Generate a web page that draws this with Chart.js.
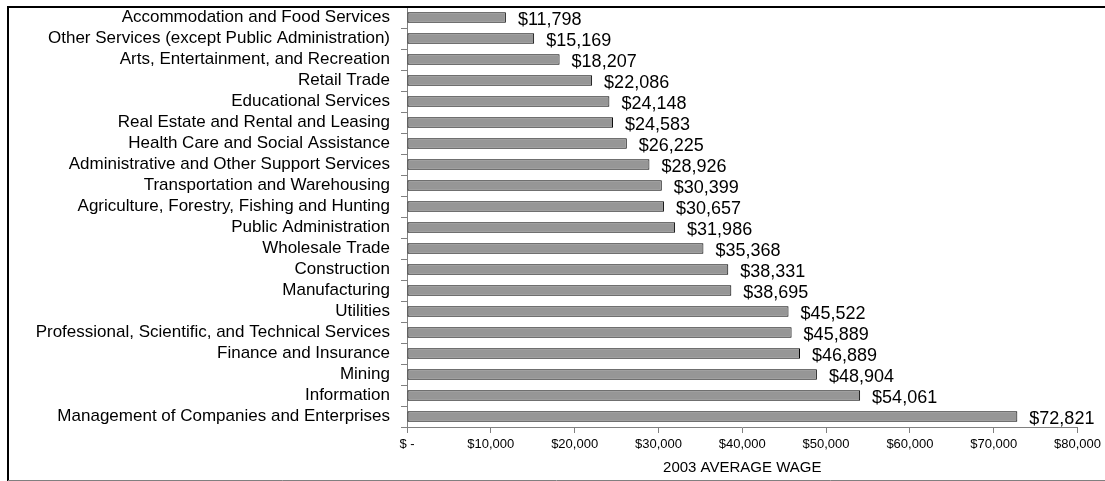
<!DOCTYPE html>
<html>
<head>
<meta charset="utf-8">
<script src="https://cdn.jsdelivr.net/npm/chart.js@4/dist/chart.umd.min.js"></script>
<style>
  html, body { margin: 0; padding: 0; background: #fff; }
  #wrap { position: relative; width: 1105px; height: 481px; }
  canvas { position: absolute; left: 0; top: 0; }
</style>
</head>
<body>
<div id="wrap"><canvas id="c" width="1105" height="481"></canvas></div>
<script>
// Industries, lowest average wage first
const industries = [
  "Accommodation and Food Services",
  "Other Services (except Public Administration)",
  "Arts, Entertainment, and Recreation",
  "Retail Trade",
  "Educational Services",
  "Real Estate and Rental and Leasing",
  "Health Care and Social Assistance",
  "Administrative and Other Support Services",
  "Transportation and Warehousing",
  "Agriculture, Forestry, Fishing and Hunting",
  "Public Administration",
  "Wholesale Trade",
  "Construction",
  "Manufacturing",
  "Utilities",
  "Professional, Scientific, and Technical Services",
  "Finance and Insurance",
  "Mining",
  "Information",
  "Management of Companies and Enterprises"
];

// 2003 average annual wage, dollars
const averageWage = [
  11798, 15169, 18207, 22086, 24148, 24583, 26225, 28926, 30399, 30657,
  31986, 35368, 38331, 38695, 45522, 45889, 46889, 48904, 54061, 72821
];

const axisTitle = "2003 AVERAGE WAGE";
const wageTicks = [0, 10000, 20000, 30000, 40000, 50000, 60000, 70000, 80000];

const FONT = "'Liberation Sans', Arial, sans-serif";

function money(v) {
  if (v === 0) return "$ -";
  return "$" + v.toLocaleString("en-US");
}

// Dollar value written just past the end of each bar
const valueLabels = {
  id: "valueLabels",
  afterDatasetsDraw(chart) {
    const ctx = chart.ctx;
    const meta = chart.getDatasetMeta(0);
    const data = chart.data.datasets[0].data;
    ctx.save();
    ctx.font = "18px " + FONT;
    ctx.fillStyle = "#000";
    ctx.textAlign = "left";
    ctx.textBaseline = "middle";
    meta.data.forEach((bar, i) => {
      ctx.fillText(money(data[i]), bar.x + 12, bar.y + 3);
    });
    ctx.restore();
  }
};

// Outer frame around the whole chart
const frame = {
  id: "frame",
  afterDraw(chart) {
    const ctx = chart.ctx;
    ctx.save();
    ctx.strokeStyle = "#000";
    ctx.lineWidth = 2;
    ctx.beginPath();
    ctx.moveTo(8, 481);
    ctx.lineTo(8, 7);
    ctx.lineTo(1105, 7);
    ctx.stroke();
    ctx.strokeStyle = "#808080";
    ctx.lineWidth = 1;
    ctx.beginPath();
    ctx.moveTo(8, 480.5);
    ctx.lineTo(1105, 480.5);
    ctx.stroke();
    ctx.restore();
  }
};

new Chart(document.getElementById("c"), {
  type: "bar",
  data: {
    labels: industries,
    datasets: [{
      data: averageWage,
      backgroundColor: "#969696",
      borderColor: "#000",
      borderWidth: 1,
      borderSkipped: false,
      categoryPercentage: 1,
      barPercentage: 0.5
    }]
  },
  options: {
    indexAxis: "y",
    responsive: false,
    devicePixelRatio: 1,
    animation: false,
    layout: { padding: { top: 7, right: 26, bottom: 0, left: 0 } },
    plugins: {
      legend: { display: false },
      tooltip: { enabled: false }
    },
    scales: {
      x: {
        min: 0,
        max: 80000,
        afterBuildTicks(scale) {
          scale.ticks = wageTicks.map(v => ({ value: v }));
        },
        afterFit(scale) { scale.height = 54; },
        grid: {
          drawOnChartArea: false,
          drawTicks: true,
          tickLength: 6,
          color: "#808080"
        },
        border: { display: true, color: "#808080", width: 1 },
        ticks: {
          padding: 4,
          maxRotation: 0,
          autoSkip: false,
          color: "#000",
          font: { family: FONT, size: 13 },
          callback: (v) => money(v)
        },
        title: {
          display: true,
          text: axisTitle,
          color: "#000",
          font: { family: FONT, size: 15 },
          padding: { top: 0, bottom: 4 }
        }
      },
      y: {
        afterFit(scale) {
          scale.width = 407;
          scale.paddingTop = 0;
          scale.paddingBottom = 0;
        },
        grid: {
          offset: true,
          drawOnChartArea: false,
          drawTicks: true,
          tickLength: 6,
          color: "#808080"
        },
        border: { display: true, color: "#808080", width: 1 },
        ticks: {
          padding: 11,
          autoSkip: false,
          color: "#000",
          font: { family: FONT, size: 17 }
        }
      }
    }
  },
  plugins: [valueLabels, frame]
});
</script>
</body>
</html>
